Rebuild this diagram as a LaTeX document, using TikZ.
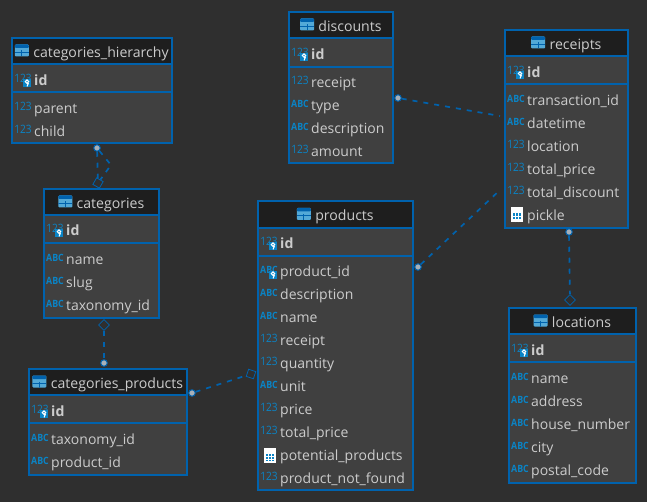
\documentclass[tikz,border=0pt]{standalone}
\usepackage{fontspec}
\setmainfont{Open Sans}
\usetikzlibrary{positioning,shapes.geometric}
\definecolor{canvasgray}{HTML}{2F2F2F}
\definecolor{boxgray}{HTML}{404040}
\definecolor{headblack}{HTML}{1E1E1E}
\definecolor{edgeblue}{HTML}{0062AD}
\definecolor{iconblue}{HTML}{0A84C6}
\definecolor{textgray}{HTML}{CCCCCC}
\definecolor{dotgray}{HTML}{A8B0B8}
\tikzset{
    tablebox/.style={shape=rectangle, anchor=north west, draw=edgeblue, fill=boxgray, line width=2pt, inner sep=0pt},
    headbox/.style={shape=rectangle, anchor=north west, fill=headblack, inner sep=0pt},
    titletext/.style={text=textgray, inner sep=0pt, text height=16pt, text depth=2pt, font=\fontsize{14.1}{16}\selectfont},
    rowtext/.style={anchor=west, text=textgray, inner sep=0pt, text height=14pt, text depth=3pt, font=\fontsize{14}{16}\selectfont},
    idtext/.style={rowtext, font=\fontsize{14.1}{16}\selectfont\bfseries},
    numicon/.style={text=iconblue, inner sep=0pt, xscale=.88, font=\fontsize{11.5}{12}\selectfont},
    abcicon/.style={text=iconblue, inner sep=0pt, xscale=.88, font=\fontsize{10}{12}\selectfont\bfseries},
    tableicon/.style={shape=rectangle, rounded corners=1pt, fill=iconblue!70!white, inner sep=0pt, minimum width=14pt, minimum height=12pt,
        path picture={\fill[edgeblue] (path picture bounding box.north west) rectangle ([yshift=-3.5pt]path picture bounding box.north east);
            \draw[edgeblue, line width=.9pt]
            (path picture bounding box.center) -- (path picture bounding box.south)
            ([yshift=-7.5pt]path picture bounding box.north west) -- ([yshift=-7.5pt]path picture bounding box.north east);}},
    keybadge/.style={shape=rectangle, fill=iconblue, inner sep=0pt, minimum size=8.5pt,
        path picture={\draw[white, line width=1pt]
            ([yshift=1.4pt]path picture bounding box.center) circle (1.7pt)
            ([yshift=-.2pt,xshift=1.5pt]path picture bounding box.center) -- ([yshift=-3.4pt]path picture bounding box.center);}},
    docicon/.style={shape=rectangle, fill=white, inner sep=0pt, minimum width=12pt, minimum height=15pt,
        path picture={\fill[iconblue] ([shift={(2pt,2pt)}]path picture bounding box.south west) rectangle ([shift={(-2pt,-6pt)}]path picture bounding box.north east);
            \draw[white, line width=.6pt]
            ([xshift=-2pt]path picture bounding box.south) -- ([shift={(-2pt,-5pt)}]path picture bounding box.north)
            ([xshift=1pt]path picture bounding box.south) -- ([shift={(1pt,-5pt)}]path picture bounding box.north)
            ([yshift=3.5pt]path picture bounding box.south west) -- ([yshift=3.5pt]path picture bounding box.south east)
            ([yshift=6pt]path picture bounding box.south west) -- ([yshift=6pt]path picture bounding box.south east);}},
    reldash/.style={draw=edgeblue, line width=1.7pt, dash pattern=on 5pt off 6pt},
    reldot/.style={shape=circle, fill=dotgray, draw=edgeblue, line width=1pt, inner sep=0pt, minimum size=6.5pt},
    reldiamond/.style={shape=diamond, aspect=1, draw=edgeblue, line width=.8pt, inner sep=0pt, minimum size=11pt},
}
% table frame: name, x1, y1, x2, y2, header bottom, separator, title
\newcommand{\dbtable}[8]{
    \node[tablebox, minimum width={(#4-#2-2)*1pt}, minimum height={(#5-#3-2)*1pt}] (#1) at (#2,#3) {};
    \node[headbox, minimum width={(#4-#2-4)*1pt}, minimum height={(#6-#3-2)*1pt}] (#1-head) at (#2+2,#3+2) {};
    \draw[edgeblue, line width=1.2pt] (#2+1,#6) -- (#4-1,#6);
    \draw[edgeblue, line width=1.2pt] (#2+1,#7) -- (#4-1,#7);
    \node[titletext] (#1-title) at ({(#2+#4)/2+9},{(#3+#6)/2}) {#8};
    \node[tableicon, left=4pt of #1-title] (#1-icon) {};
}
% row: table, x1, y, kind, text
\newcommand{\dbrow}[5]{
    \node[rowtext] (#1-#3) at (#2+23,#3) {#5};
    \ifnum\pdfstrcmp{#4}{num}=0
        \node[numicon] (#1-#3-kind) at (#2+12,#3-1.5) {123};
    \else\ifnum\pdfstrcmp{#4}{abc}=0
        \node[abcicon] (#1-#3-kind) at (#2+12,#3-1.5) {ABC};
    \else
        \node[docicon] (#1-#3-kind) at (#2+13,#3) {};
    \fi\fi
}
\newcommand{\dbid}[3]{
    \node[idtext] (#1-id) at (#2+23,#3) {id};
    \node[numicon] (#1-id-kind) at (#2+12,#3-2) {123};
    \node[keybadge] (#1-id-key) at (#2+16,#3+3) {};
}
\begin{document}
\begin{tikzpicture}[x=1pt, y=-1pt]
    \fill[canvasgray] (0,0) rectangle (647,502);

    \dbtable{hierarchy}{11}{37}{173}{144}{64}{92}{categories\_hierarchy}
    \dbid{hierarchy}{11}{80}
    \foreach \ry/\kind/\lbl in {108/num/parent, 131/num/child}
        {\dbrow{hierarchy}{11}{\ry}{\kind}{\lbl}}

    \dbtable{categories}{43}{188}{160}{319}{215}{243}{categories}
    \dbid{categories}{43}{230}
    \foreach \ry/\kind/\lbl in {259/abc/name, 282/abc/slug, 305/abc/taxonomy\_id}
        {\dbrow{categories}{43}{\ry}{\kind}{\lbl}}

    \dbtable{discounts}{288}{11}{394}{164}{38}{67}{discounts}
    \dbid{discounts}{288}{54}
    \foreach \ry/\kind/\lbl in {82/num/receipt, 105/abc/type, 128/abc/description, 151/num/amount}
        {\dbrow{discounts}{288}{\ry}{\kind}{\lbl}}

    \dbtable{receipts}{504}{29}{629}{229}{56}{84}{receipts}
    \dbid{receipts}{504}{72}
    \foreach \ry/\kind/\lbl in {100/abc/transaction\_id, 123/abc/datetime, 146/num/location, 169/num/total\_price, 192/num/total\_discount, 215/doc/pickle}
        {\dbrow{receipts}{504}{\ry}{\kind}{\lbl}}

    \dbtable{products}{257}{200}{414}{491}{228}{256}{products}
    \dbid{products}{257}{243}
    \foreach \ry/\kind/\lbl in {271/abc/product\_id, 294/abc/description, 317/abc/name, 340/num/receipt, 363/num/quantity, 386/abc/unit, 409/num/price, 432/num/total\_price, 455/doc/potential\_products, 478/num/product\_not\_found}
        {\dbrow{products}{257}{\ry}{\kind}{\lbl}}
    \node[keybadge] (products-pid-key) at (273,275) {};

    \dbtable{locations}{508}{307}{637}{484}{334}{362}{locations}
    \dbid{locations}{508}{350}
    \foreach \ry/\kind/\lbl in {378/abc/name, 401/abc/address, 424/abc/house\_number, 447/abc/city, 470/abc/postal\_code}
        {\dbrow{locations}{508}{\ry}{\kind}{\lbl}}

    \dbtable{catprods}{28}{368}{188}{476}{395}{423}{categories\_products}
    \dbid{catprods}{28}{411}
    \foreach \ry/\kind/\lbl in {439/abc/taxonomy\_id, 462/abc/product\_id}
        {\dbrow{catprods}{28}{\ry}{\kind}{\lbl}}

    \node[reldot] (hierdot) at (97,148) {};
    \node[reldiamond, rotate=15] (loopdiamond) at (98,183) {};
    \coordinate (loopbend) at (111,165);
    \node[reldiamond] (catdiamond) at (104,325) {};
    \node[reldot] (catprodsdot) at (104,363) {};
    \node[reldot] (catprodsside) at (192,393) {};
    \node[reldiamond, rotate=27] (proddiamond) at (251,374) {};
    \node[reldot] (discdot) at (398,98) {};
    \coordinate (recleft) at (500,116);
    \node[reldot] (proddot) at (418,267) {};
    \coordinate (recleftlow) at (500,190);
    \node[reldot] (recdot) at (569,232) {};
    \node[reldiamond] (locdiamond) at (570,300) {};

    \path[reldash] (hierdot) -- (loopdiamond);
    \path[reldash] (hierdot) -- (loopbend) -- (loopdiamond);
    \path[reldash] (catdiamond) -- (catprodsdot);
    \path[reldash] (catprodsside) -- (proddiamond);
    \path[reldash] (discdot) -- (recleft);
    \path[reldash] (proddot) -- (recleftlow);
    \path[reldash] (recdot) -- (locdiamond);
\end{tikzpicture}
\end{document}
